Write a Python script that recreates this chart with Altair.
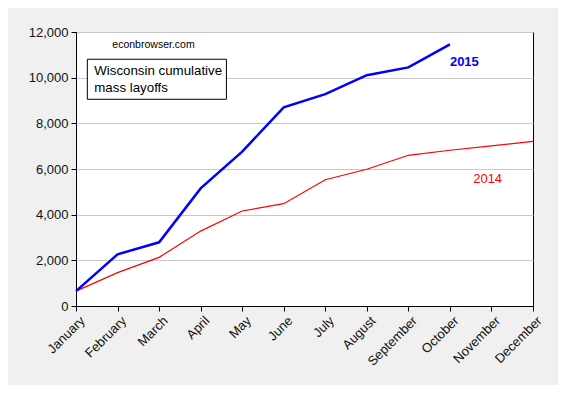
import altair as alt
import pandas as pd

months = ["January", "February", "March", "April", "May", "June", "July",
          "August", "September", "October", "November", "December"]
y2015 = [650, 2260, 2790, 5150, 6760, 8700, 9280, 10110, 10450, 11460]
y2014 = [650, 1460, 2130, 3280, 4160, 4480, 5530, 5990, 6600, 6820, 7010, 7210]

df15 = pd.DataFrame({"m": list(range(len(y2015))), "v": y2015})
df14 = pd.DataFrame({"m": list(range(len(y2014))), "v": y2014})

FONT = "Liberation Sans"

label_expr = "[" + ",".join("'%s'" % m for m in months) + "][datum.value]"

xs = alt.Scale(domain=[0, 11], nice=False, zero=False)
ys = alt.Scale(domain=[0, 12000], nice=False)

xaxis = alt.Axis(values=list(range(12)), labelExpr=label_expr, labelAngle=315,
                 labelAlign="right", labelBaseline="top", grid=False, title=None,
                 tickSize=5, tickColor="black", domainColor="black",
                 labelOverlap=False, labelFlush=False, labelOffset=2,
                 labelFontSize=13, labelFont=FONT, labelColor="#111111", labelPadding=3)
yaxis = alt.Axis(values=list(range(0, 12001, 2000)),
                 labelExpr="format(datum.value, ',')", grid=True,
                 gridColor="#C8C8C8", title=None, tickSize=5, tickColor="black",
                 domainColor="black", labelFontSize=13, labelFont=FONT,
                 labelOverlap=False, labelFlush=False,
                 labelColor="#111111", labelPadding=3)

X = lambda f: alt.X(f, scale=xs, axis=xaxis)
Y = lambda f: alt.Y(f, scale=ys, axis=yaxis)

line14 = alt.Chart(df14).mark_line(color="#FF0000", strokeWidth=1.2).encode(x=X("m:Q"), y=Y("v:Q"))
line15 = alt.Chart(df15).mark_line(color="#0000FF", strokeWidth=2.5).encode(x=X("m:Q"), y=Y("v:Q"))

box_df = pd.DataFrame({"x1": [0.273], "x2": [3.62], "y1": [9054], "y2": [10806]})
box = alt.Chart(box_df).mark_rect(fill="white", stroke="black", strokeWidth=1).encode(
    x=X("x1:Q"), x2="x2:Q", y=Y("y1:Q"), y2="y2:Q")

box_text_df = pd.DataFrame({"x": [0.44, 0.44], "y": [10293, 9562],
                            "t": ["Wisconsin cumulative", "mass layoffs"]})
box_text = alt.Chart(box_text_df).mark_text(align="left", baseline="middle", fontSize=13.3,
                                             font=FONT, color="black").encode(
    x=X("x:Q"), y=Y("y:Q"), text="t:N")

src_df = pd.DataFrame({"x": [0.875], "y": [11432], "t": ["econbrowser.com"]})
src = alt.Chart(src_df).mark_text(align="left", baseline="middle", fontSize=10.5,
                                  font=FONT, color="black").encode(
    x=X("x:Q"), y=Y("y:Q"), text="t:N")

l15_df = pd.DataFrame({"x": [9.0], "y": [10674], "t": ["2015"]})
l15 = alt.Chart(l15_df).mark_text(align="left", baseline="middle", fontSize=13,
                                  fontWeight="bold", font=FONT, color="#0000FF").encode(
    x=X("x:Q"), y=Y("y:Q"), text="t:N")

l14_df = pd.DataFrame({"x": [9.56], "y": [5563], "t": ["2014"]})
l14 = alt.Chart(l14_df).mark_text(align="left", baseline="middle", fontSize=13,
                                  font=FONT, color="#FF0000").encode(
    x=X("x:Q"), y=Y("y:Q"), text="t:N")

chart = alt.layer(line14, line15, box, box_text, src, l15, l14).properties(
    width=457, height=274,
    autosize=alt.AutoSizeParams(type="none"),
    padding={"left": 68, "top": 24, "right": 25, "bottom": 79},
    background="#F0F0F0",
).configure_view(fill="white", stroke="black", strokeWidth=1)

chart.save("out.html", embed_options={"renderer": "svg", "actions": False})
